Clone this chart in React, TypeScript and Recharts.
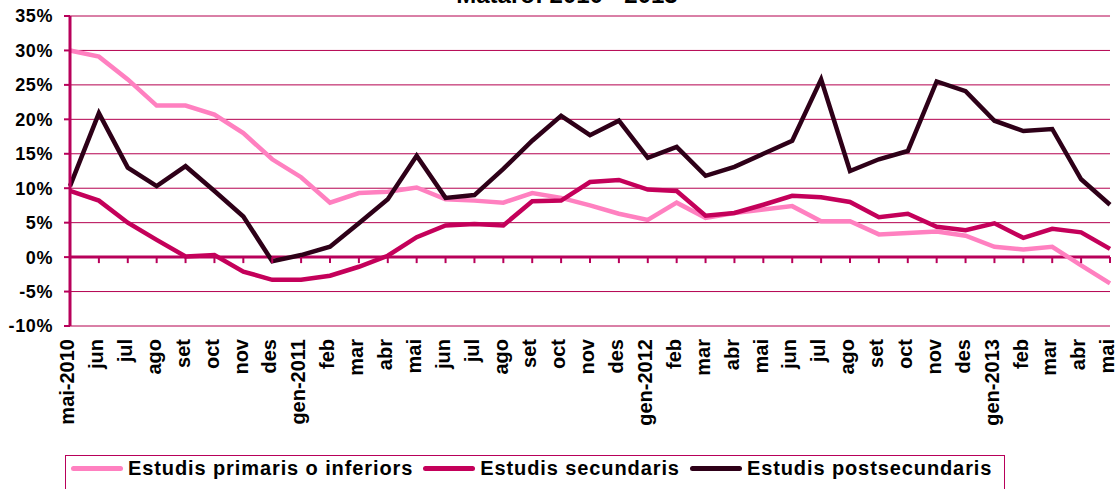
import React from "react";
import {
  LineChart,
  Line,
  XAxis,
  YAxis,
  CartesianGrid,
  ReferenceLine,
} from "recharts";

const months = [
  "mai-2010", "jun", "jul", "ago", "set", "oct", "nov", "des",
  "gen-2011", "feb", "mar", "abr", "mai", "jun", "jul", "ago", "set", "oct", "nov", "des",
  "gen-2012", "feb", "mar", "abr", "mai", "jun", "jul", "ago", "set", "oct", "nov", "des",
  "gen-2013", "feb", "mar", "abr", "mai",
];

const primaris = [
  30.0, 29.1, 25.8, 22.0, 22.0, 20.7, 18.0, 14.2, 11.6, 7.9, 9.3, 9.5, 10.1,
  8.4, 8.2, 7.9, 9.3, 8.6, 7.5, 6.3, 5.4, 7.9, 5.7, 6.4, 6.9, 7.4, 5.2, 5.2,
  3.3, 3.5, 3.7, 3.1, 1.5, 1.1, 1.5, -1.2, -3.8,
];

const secundaris = [
  9.6, 8.2, 5.0, 2.5, 0.1, 0.3, -2.1, -3.3, -3.3, -2.7, -1.4, 0.2, 2.9, 4.6,
  4.8, 4.6, 8.1, 8.2, 10.9, 11.2, 9.8, 9.6, 6.0, 6.4, 7.6, 8.9, 8.7, 8.0, 5.8,
  6.3, 4.4, 3.9, 4.9, 2.8, 4.1, 3.6, 1.2,
];

const postsecundaris = [
  10.3, 20.9, 13.0, 10.3, 13.2, 9.6, 5.9, -0.6, 0.3, 1.5, 4.9, 8.4, 14.7, 8.6,
  9.0, 12.8, 16.9, 20.5, 17.7, 19.8, 14.4, 16.0, 11.8, 13.1, 15.0, 16.9, 25.8,
  12.5, 14.2, 15.4, 25.5, 24.1, 19.8, 18.3, 18.6, 11.3, 7.6,
];

const yTicks = [-10, -5, 0, 5, 10, 15, 20, 25, 30, 35];

const series = [
  { key: "primaris", name: "Estudis primaris o inferiors", color: "#ff80c0" },
  { key: "secundaris", name: "Estudis secundaris", color: "#c4005a" },
  { key: "postsecundaris", name: "Estudis postsecundaris", color: "#2e0018" },
];

const data = months.map((m, i) => ({
  month: m,
  primaris: primaris[i],
  secundaris: secundaris[i],
  postsecundaris: postsecundaris[i],
}));

const AXIS = "#b8005a";
const GRID = "#b4004f";
const FONT = "'Liberation Sans', Arial, sans-serif";

const TOP = 16;
const PLOT_H = 310;
const Y_MIN = -10;
const Y_MAX = 35;
const zeroY = TOP + (PLOT_H * Y_MAX) / (Y_MAX - Y_MIN);

function MonthTick(props: any) {
  const { x, y, payload } = props;
  const tx = x - 3;
  return (
    <g>
      <line x1={x} x2={x} y1={zeroY} y2={zeroY + 6} stroke={AXIS} strokeWidth={2} />
      <text
        x={tx}
        y={y}
        transform={`rotate(-90, ${tx}, ${y})`}
        textAnchor="end"
        dy="0.36em"
        fontFamily={FONT}
        fontWeight="bold"
        fontSize={20}
        fill="#000"
      >
        {payload.value}
      </text>
    </g>
  );
}

export default function App() {
  return (
    <div style={{ position: "absolute", left: 0, top: 0, width: 1119, height: 489, background: "#fff", overflow: "hidden" }}>
      <div
        style={{
          position: "absolute",
          left: 0,
          width: 1134,
          top: -19,
          textAlign: "center",
          fontFamily: FONT,
          fontWeight: "bold",
          fontSize: 24,
          lineHeight: "28px",
        }}
      >
        Mataró: 2010 - 2013
      </div>
      <LineChart
        width={1119}
        height={489}
        data={data}
        margin={{ top: TOP, right: 9, bottom: 0, left: 0 }}
      >
        <CartesianGrid vertical={false} stroke={GRID} strokeWidth={1} />
        <XAxis
          dataKey="month"
          interval={0}
          height={163}
          axisLine={false}
          tickLine={false}
          tickSize={0}
          tickMargin={13}
          tick={<MonthTick />}
        />
        <YAxis
          width={70}
          domain={[Y_MIN, Y_MAX]}
          ticks={yTicks}
          interval={0}
          tickFormatter={(v) => `${v}%`}
          axisLine={{ stroke: AXIS, strokeWidth: 3 }}
          tickLine={{ stroke: AXIS, strokeWidth: 2 }}
          tickSize={6}
          tickMargin={11}
          tick={{ fill: "#000", fontFamily: FONT, fontWeight: "bold", fontSize: 18, letterSpacing: 0.6 }}
        />
        <ReferenceLine y={0} stroke={AXIS} strokeWidth={3} />
        {series.map((s) => (
          <Line
            key={s.key}
            dataKey={s.key}
            name={s.name}
            type="linear"
            stroke={s.color}
            strokeWidth={4.5}
            dot={false}
            isAnimationActive={false}
          />
        ))}
      </LineChart>
      <div
        style={{
          position: "absolute",
          left: 65,
          top: 455,
          width: 940,
          height: 44,
          border: `1.5px solid ${AXIS}`,
          display: "flex",
          flexWrap: "nowrap",
          alignItems: "flex-start",
          paddingTop: 1,
          boxSizing: "border-box",
          fontFamily: FONT,
          fontWeight: "bold",
          fontSize: 20,
          letterSpacing: 0.9,
          whiteSpace: "nowrap",
        }}
      >
        {series.map((s, i) => (
          <div
            key={s.key}
            style={{ display: "flex", alignItems: "center", flexShrink: 0, marginLeft: i === 0 ? 5 : 10 }}
          >
            <div style={{ width: 52, height: 5, borderRadius: 3, background: s.color, marginRight: 5 }} />
            <span>{s.name}</span>
          </div>
        ))}
      </div>
    </div>
  );
}
